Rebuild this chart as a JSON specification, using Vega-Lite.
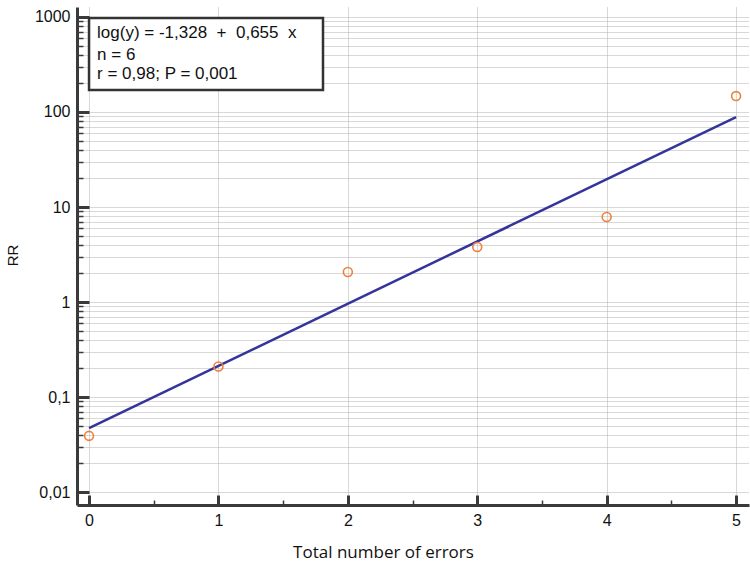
{
  "$schema": "https://vega.github.io/schema/vega-lite/v6.json",
  "width": 672,
  "height": 498,
  "autosize": {"type": "none"},
  "padding": {"left": 77, "top": 7, "right": 1, "bottom": 65},
  "background": "white",
  "config": {
    "view": {"stroke": null},
    "font": "Liberation Sans"
  },
  "datasets": {
    "obs": [
      {"errors": 0, "rr": 0.039},
      {"errors": 1, "rr": 0.21},
      {"errors": 2, "rr": 2.07},
      {"errors": 3, "rr": 3.8},
      {"errors": 4, "rr": 7.85},
      {"errors": 5, "rr": 147}
    ],
    "fit": [
      {"errors": 0, "rr": 0.047},
      {"errors": 5, "rr": 88.5}
    ],
    "box": [
      {"x1": 0, "x2": 1.808, "y1": 170.6, "y2": 975}
    ],
    "notes": [
      {"x": 0.062, "y": 680, "label": "log(y) = -1,328 \u00a0+ \u00a00,655 \u00a0x"},
      {"x": 0.062, "y": 398, "label": "n = 6"},
      {"x": 0.062, "y": 251, "label": "r = 0,98; P = 0,001"}
    ]
  },
  "layer": [
    {
      "data": {"name": "fit"},
      "mark": {"type": "line", "color": "#34349a", "strokeWidth": 2.5, "clip": true},
      "encoding": {
        "x": {
          "field": "errors", "type": "quantitative",
          "scale": {"domain": [-0.093, 5.1], "nice": false, "zero": false},
          "axis": {
            "title": "Total number of errors",
            "titleFont": "Open Sans",
            "titleFontSize": 17,
            "titleFontWeight": "normal",
            "titleColor": "#111",
            "titleX": 306,
            "titleY": 47,
            "titleBaseline": "middle",
            "values": [0, 0.5, 1, 1.5, 2, 2.5, 3, 3.5, 4, 4.5, 5],
            "labelExpr": "datum.value % 1 == 0 ? format(datum.value, 'd') : ''",
            "labelOverlap": false,
            "labelFontSize": 16,
            "labelColor": "#111",
            "labelPadding": 25,
            "labelBaseline": "middle",
            "domainColor": "#3a3a3a",
            "domainWidth": 3,
            "tickColor": "#3a3a3a",
            "tickSize": {"condition": {"test": "datum.value % 1 == 0", "value": -10}, "value": -5},
            "tickWidth": {"condition": {"test": "datum.value % 1 == 0", "value": 3}, "value": 1.5},
            "grid": true,
            "gridColor": "#b0b0b0",
            "gridDash": [1, 1],
            "gridWidth": 1,
            "gridOpacity": {"condition": {"test": "datum.value % 1 == 0", "value": 1}, "value": 0}
          }
        },
        "y": {
          "field": "rr", "type": "quantitative",
          "scale": {"type": "log", "domain": [0.0073, 1274], "nice": false},
          "axis": {
            "title": "RR",
            "titleFontSize": 15,
            "titleFontWeight": "normal",
            "titleColor": "#111",
            "titleX": -65,
            "titleY": 248,
            "titleAngle": -90,
            "titleAlign": "center",
            "titleBaseline": "middle",
            "values": [0.01,0.02,0.03,0.04,0.05,0.06,0.07,0.08,0.09,0.1,0.2,0.3,0.4,0.5,0.6,0.7,0.8,0.9,1,2,3,4,5,6,7,8,9,10,20,30,40,50,60,70,80,90,100,200,300,400,500,600,700,800,900,1000],
            "labelExpr": "datum.value == 0.01 ? '0,01' : datum.value == 0.1 ? '0,1' : (datum.value == 1 || datum.value == 10 || datum.value == 100 || datum.value == 1000) ? format(datum.value, 'd') : ''",
            "labelOverlap": false,
            "labelFontSize": 16,
            "labelColor": "#111",
            "labelPadding": 19,
            "labelBaseline": "middle",
            "domainColor": "#3a3a3a",
            "domainWidth": 3,
            "tickColor": "#3a3a3a",
            "tickSize": {"condition": {"test": "indexof([0.01,0.1,1,10,100,1000], datum.value) >= 0", "value": -12}, "value": -6},
            "tickWidth": {"condition": {"test": "indexof([0.01,0.1,1,10,100,1000], datum.value) >= 0", "value": 3}, "value": 1.5},
            "grid": true,
            "gridColor": "#b0b0b0",
            "gridDash": [1, 1],
            "gridWidth": 1
          }
        }
      }
    },
    {
      "data": {"name": "obs"},
      "mark": {"type": "point", "shape": "circle", "filled": false, "color": "#f07f3c", "opacity": 1, "size": 80, "strokeWidth": 1.6, "clip": true},
      "encoding": {
        "x": {"field": "errors", "type": "quantitative"},
        "y": {"field": "rr", "type": "quantitative"}
      }
    },
    {
      "data": {"name": "box"},
      "mark": {"type": "rect", "fill": "white", "stroke": "#333", "strokeWidth": 2.5},
      "encoding": {
        "x": {"field": "x1", "type": "quantitative"},
        "x2": {"field": "x2"},
        "y": {"field": "y1", "type": "quantitative"},
        "y2": {"field": "y2"}
      }
    },
    {
      "data": {"name": "notes"},
      "mark": {"type": "text", "align": "left", "baseline": "middle", "fontSize": 17, "color": "#111"},
      "encoding": {
        "x": {"field": "x", "type": "quantitative"},
        "y": {"field": "y", "type": "quantitative"},
        "text": {"field": "label"}
      }
    }
  ]
}
